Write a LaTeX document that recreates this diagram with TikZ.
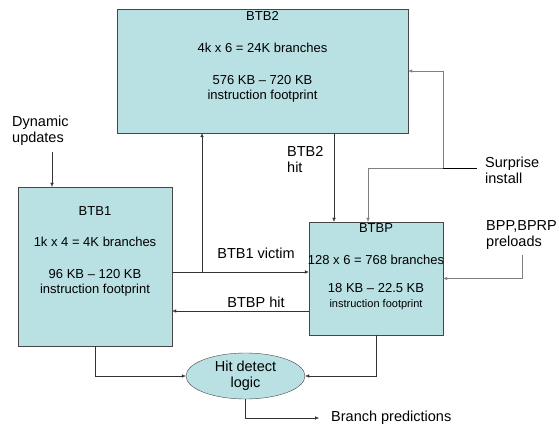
\documentclass[tikz,border=0pt]{standalone}
\usepackage{fontspec}
\setmainfont{Liberation Sans}
\usetikzlibrary{arrows.meta, positioning, shapes.geometric}
\definecolor{boxfill}{RGB}{185,224,227}
\definecolor{edgegray}{RGB}{70,70,70}
\definecolor{linegray}{RGB}{128,128,128}

\begin{document}
\begin{tikzpicture}[
    x=1pt, y=-1pt,
    every node/.style={font=\fontsize{14.5}{16}\selectfont},
    box/.style={draw=edgegray, fill=boxfill, rectangle, inner sep=0pt},
    boxtext/.style={align=center, inner sep=0pt, anchor=north, font=\fontsize{13}{15}\selectfont},
    lbl/.style={align=left, inner sep=0pt, anchor=north west},
    arrow/.style={-{Latex[length=4pt,width=3.5pt]}, black!80},
    grayarrow/.style={arrow, linegray}
]
    \useasboundingbox (0,0) rectangle (559,427);

    % Nodes
    \node[box, minimum width=291pt, minimum height=124pt] (btbtwo) at (262.5,71) {};
    \node[box, minimum width=154pt, minimum height=159pt] (btbone) at (95,266.5) {};
    \node[box, minimum width=134pt, minimum height=113pt] (btbp) at (376,278.5) {};
    \node[ellipse, draw=edgegray, fill=boxfill, minimum width=119pt, minimum height=46pt,
          inner sep=0pt, align=center] (hit) at (245.5,376) {Hit detect\\logic};

    \node[boxtext, below=2.4pt of btbtwo.north] (btbtwotext)
        {BTB2\\[17pt] 4k x 6 = 24K branches\\[17pt] 576 KB -- 720 KB\\ instruction footprint};
    \node[boxtext, below=19.7pt of btbone.north] (btbonetext)
        {BTB1\\[16pt] 1k x 4 = 4K branches\\[17pt] 96 KB -- 120 KB\\ instruction footprint};
    \node[boxtext, below=1.7pt of btbp.north] (btbptext)
        {BTBP\\[17pt] 128 x 6 = 768 branches\\[13pt] 18 KB -- 22.5 KB\\
         {\fontsize{11}{13}\selectfont instruction footprint}};

    % Labels
    \node[lbl] (dynlbl) at (12,115.6) {Dynamic\\updates};
    \node[lbl] (hitlbl) at (287,146.6) {BTB2\\hit};
    \node[lbl] (surplbl) at (485,156.6) {Surprise\\install};
    \node[lbl] (bpplbl) at (486,220.6) {BPP,BPRP\\preloads};
    \node[lbl, anchor=south] (victimlbl) at (256,259) {BTB1 victim};
    \node[lbl, anchor=south] (phitlbl) at (256,308) {BTBP hit};
    \node[lbl, anchor=west] (predlbl) at (331,418) {Branch predictions};

    \coordinate (dyn) at (52,152);
    \coordinate (vsplit) at (202,272);
    \coordinate (sjoin) at (443,168);

    % Arrows
    \draw[arrow] (dyn) -- (dyn |- btbone.north);
    \draw[arrow] (btbone.east |- vsplit) -- (btbp.west |- vsplit);
    \draw[arrow] (vsplit) -- (vsplit |- btbtwo.south);
    \draw[arrow] ([yshift=-32.5pt]btbp.west) -- ([yshift=-32.5pt]btbp.west -| btbone.east);
    \draw[arrow] ([xshift=71.5pt]btbtwo.south) -- ([xshift=71.5pt]btbtwo.south |- btbp.north);
    \draw[black] ([xshift=-8pt]surplbl.west |- sjoin) -- (sjoin);
    \draw[grayarrow] (sjoin) |- (btbtwo.east);
    \draw[grayarrow] (sjoin) -| ([xshift=-8pt]btbp.north);
    \draw[grayarrow] ([xshift=1pt,yshift=-5pt]bpplbl.south) |- (btbp.east);
    \draw[arrow] (btbone.south) |- (hit.west);
    \draw[arrow] (btbp.south) |- (hit.east);
    \draw[arrow] (hit.south) |- ([xshift=-12pt]predlbl.west);
\end{tikzpicture}
\end{document}
